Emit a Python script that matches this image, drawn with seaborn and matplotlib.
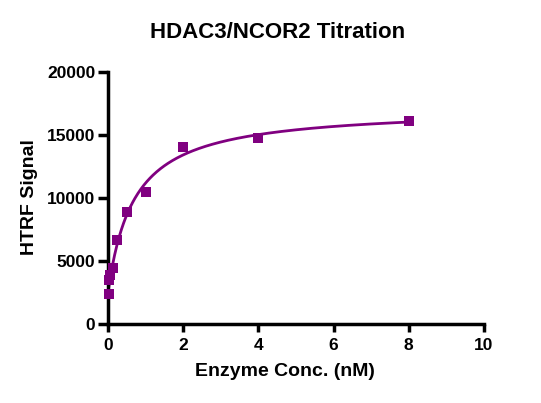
import numpy as np
import pandas as pd
import matplotlib
matplotlib.use("Agg")
import matplotlib.pyplot as plt
import seaborn as sns

# -----------------------------------
# DATA
# -----------------------------------

enzyme_nM = [0.0156, 0.03125, 0.0625, 0.125, 0.25, 0.5, 1, 2, 4, 8]
htrf_signal = [2400, 3500, 3900, 4450, 6650, 8900, 10450, 14050, 14750, 16100]

x_ticks = [0, 2, 4, 6, 8, 10]
y_ticks = [0, 5000, 10000, 15000, 20000]

df = pd.DataFrame({"conc": enzyme_nM, "signal": htrf_signal})

# -----------------------------------
# HYPERBOLIC FIT (Bmax*x/(Kd+x) + bg)
# -----------------------------------

x = np.array(enzyme_nM)
y = np.array(htrf_signal)
best = None
for kd in np.linspace(0.01, 5, 2000):
    A = np.column_stack([x / (kd + x), np.ones_like(x)])
    coef, *_ = np.linalg.lstsq(A, y, rcond=None)
    err = np.sum((A @ coef - y) ** 2)
    if best is None or err < best[0]:
        best = (err, kd, coef)
_, kd, (bmax, bg) = best
xs = np.linspace(x.min(), x.max(), 400)
fit = pd.DataFrame({"conc": xs, "signal": bmax * xs / (kd + xs) + bg})

# -----------------------------------
# PLOT
# -----------------------------------

sns.set_style("ticks")
plt.rcParams["font.family"] = ["Liberation Sans", "DejaVu Sans"]
plt.rcParams["font.weight"] = "bold"
plt.rcParams["text.color"] = "black"
plt.rcParams["axes.labelcolor"] = "black"

purple = "#800080"

fig = plt.figure(figsize=(5.41, 4.03), dpi=100)
ax = fig.add_axes([108 / 541, 1 - 324 / 403, (484 - 108) / 541, (324 - 72) / 403])

sns.lineplot(data=fit, x="conc", y="signal", color=purple, linewidth=2, ax=ax)
sns.scatterplot(data=df, x="conc", y="signal", color=purple, marker="s",
                s=58, edgecolor=purple, linewidth=0, ax=ax, zorder=3, clip_on=False)

ax.set_xlim(0, 10)
ax.set_ylim(0, 20000)
ax.set_xticks(x_ticks)
ax.set_yticks(y_ticks)
ax.tick_params(axis="x", width=2.5, length=6, pad=4, labelsize=12.5, colors="black")
ax.tick_params(axis="y", width=2.5, length=7, pad=2, labelsize=12.5, colors="black")
for lab in ax.get_xticklabels() + ax.get_yticklabels():
    lab.set_fontweight("bold")

for side in ["top", "right"]:
    ax.spines[side].set_visible(False)
for side in ["left", "bottom"]:
    ax.spines[side].set_linewidth(2.5)
    ax.spines[side].set_color("black")

ax.set_xlabel("Enzyme Conc. (nM)", fontsize=14, fontweight="bold", va="center")
ax.set_ylabel("HTRF Signal", fontsize=14, fontweight="bold", va="center")
ax.xaxis.set_label_coords((285 - 108) / 376, (324 - 372) / 252)
ax.yaxis.set_label_coords((30 - 108) / 376, (324 - 197) / 252)

fig.text(278 / 541, 1 - 33 / 403, "HDAC3/NCOR2 Titration", fontsize=16,
         fontweight="bold", ha="center", va="center", color="black")

fig.savefig("out.png", dpi=100)
